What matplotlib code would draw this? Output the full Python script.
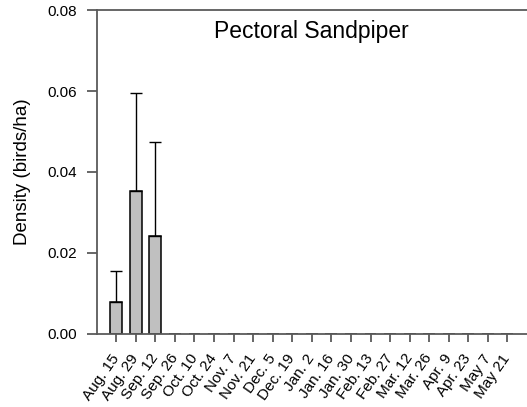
import matplotlib
matplotlib.use('Agg')
from matplotlib import pyplot as plt

plt.rcParams['font.family'] = ['Liberation Sans', 'DejaVu Sans']

# Survey dates and densities (birds/ha) with upper error
dates = ['Aug. 15', 'Aug. 29', 'Sep. 12', 'Sep. 26', 'Oct. 10', 'Oct. 24',
         'Nov. 7', 'Nov. 21', 'Dec. 5', 'Dec. 19', 'Jan. 2', 'Jan. 16',
         'Jan. 30', 'Feb. 13', 'Feb. 27', 'Mar. 12', 'Mar. 26', 'Apr. 9',
         'Apr. 23', 'May 7', 'May 21']
density = [0.0078, 0.0353, 0.0243] + [0.0] * 18
err_up = [0.0078, 0.0241, 0.0232] + [0.0] * 18

axis_grey = '#5a5a5a'

fig = plt.figure(figsize=(5.27, 4.07), dpi=100)
ax = fig.add_axes([0.1835, 0.1794, 0.8165, 0.796])

x = list(range(len(dates)))
has_err = [i for i in x if err_up[i] > 0]
ax.bar(x, density, width=0.61, color='#c0c0c0', edgecolor='black', linewidth=1.1, zorder=2)
ax.errorbar(has_err, [density[i] for i in has_err],
            yerr=[[0] * len(has_err), [err_up[i] for i in has_err]],
            fmt='none', ecolor='black', elinewidth=1.0, capsize=4, capthick=1.0, zorder=3)

ax.set_xlim(-1, 21)
ax.set_ylim(0, 0.08)
ax.set_yticks([0.0, 0.02, 0.04, 0.06, 0.08])
ax.set_yticklabels(['0.00', '0.02', '0.04', '0.06', '0.08'], fontsize=11)
ax.set_xticks(x)
ax.set_xticklabels(dates, fontsize=11, rotation=55, ha='right', va='center',
                   rotation_mode='anchor')

ax.spines['right'].set_visible(False)
for side in ['left', 'bottom', 'top']:
    ax.spines[side].set_color(axis_grey)
    ax.spines[side].set_linewidth(1.3)

ax.tick_params(axis='y', direction='out', length=7.2, width=1.3, color=axis_grey, pad=6.8)
ax.tick_params(axis='x', direction='out', length=6, width=1.3, color=axis_grey, pad=9.5)

ax.set_ylabel('Density (birds/ha)', fontsize=13.5)
ax.yaxis.set_label_coords(-0.152, 0.5)
ax.text(0.5, 0.9127, 'Pectoral Sandpiper', transform=ax.transAxes,
        ha='center', va='baseline', fontsize=16.5)

fig.savefig('out.png', dpi=100)
